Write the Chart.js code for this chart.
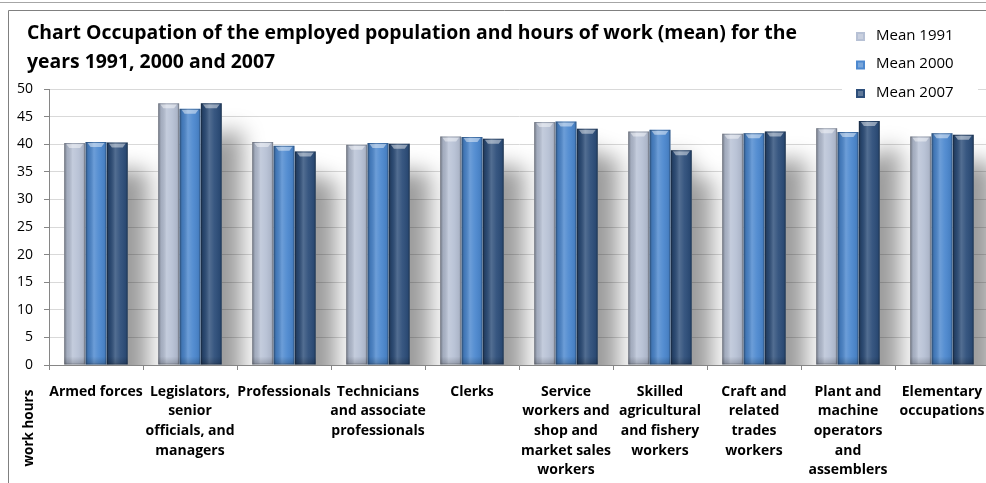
<!DOCTYPE html>
<html>
<head>
<meta charset="utf-8">
<script src="https://cdn.jsdelivr.net/npm/chart.js@4"></script>
<style>
  html, body { margin: 0; padding: 0; background: #fff; overflow: hidden; }
  canvas { display: block; }
</style>
</head>
<body>
<canvas id="chart" width="1000" height="483"></canvas>
<script>
// occupation groups, one array of lines per label
const categories = [
    ['Armed forces'],
    ['Legislators,', 'senior', 'officials, and', 'managers'],
    ['Professionals'],
    ['Technicians', 'and associate', 'professionals'],
    ['Clerks'],
    ['Service', 'workers and', 'shop and', 'market sales', 'workers'],
    ['Skilled', 'agricultural', 'and fishery', 'workers'],
    ['Craft and', 'related', 'trades', 'workers'],
    ['Plant and', 'machine', 'operators', 'and', 'assemblers'],
    ['Elementary', 'occupations']
];

// mean weekly work hours
const mean1991 = [40.2, 47.4, 40.4, 39.9, 41.4, 44.0, 42.3, 41.9, 42.9, 41.4];
const mean2000 = [40.4, 46.4, 39.7, 40.2, 41.3, 44.1, 42.6, 42.0, 42.2, 42.0];
const mean2007 = [40.3, 47.4, 38.7, 40.1, 41.0, 42.8, 38.9, 42.3, 44.2, 41.7];

const seriesLabels = ['Mean 1991', 'Mean 2000', 'Mean 2007'];
const seriesColors = ['#b7c1d5', '#4c88cf', '#2d4e7a'];
const yTicks = { min: 0, max: 50, step: 5 };

const titleLines = [
    'Chart Occupation of the employed population and hours of work (mean) for the',
    'years 1991, 2000 and 2007'
];
const axisTitle = 'work hours';

const FONT = "'Open Sans', Lato, 'DejaVu Sans', sans-serif";

// soft shadow cast by each group of bars
const barShadow = {
    id: 'barShadow',
    beforeDatasetsDraw(chart) {
        const { ctx, chartArea } = chart;
        ctx.save();
        ctx.beginPath();
        ctx.rect(chartArea.left, chartArea.top, chartArea.right - chartArea.left, chartArea.bottom - chartArea.top);
        ctx.clip();
        ctx.beginPath();
        chart.data.datasets.forEach((ds, i) => {
            chart.getDatasetMeta(i).data.forEach(bar => {
                const { x, y, base, width } = bar.getProps(['x', 'y', 'base', 'width']);
                ctx.rect(x - width / 2, y, width, base - y);
            });
        });
        ctx.shadowColor = 'rgba(0, 0, 0, 0.4)';
        ctx.shadowBlur = 22;
        ctx.shadowOffsetX = 20;
        ctx.shadowOffsetY = 28;
        ctx.fillStyle = '#fff';
        ctx.fill();
        ctx.restore();
    }
};

// bevelled look on top of the flat bars
const barBevel = {
    id: 'barBevel',
    afterDatasetsDraw(chart) {
        const { ctx } = chart;
        ctx.save();
        chart.data.datasets.forEach((ds, i) => {
            chart.getDatasetMeta(i).data.forEach(bar => {
                const { x, y, base, width } = bar.getProps(['x', 'y', 'base', 'width']);
                const left = x - width / 2;
                const h = base - y;

                const g = ctx.createLinearGradient(left, 0, left + width, 0);
                g.addColorStop(0, 'rgba(0, 0, 0, 0.32)');
                g.addColorStop(0.15, 'rgba(0, 0, 0, 0.1)');
                g.addColorStop(0.4, 'rgba(255, 255, 255, 0.18)');
                g.addColorStop(0.65, 'rgba(255, 255, 255, 0.05)');
                g.addColorStop(0.9, 'rgba(0, 0, 0, 0.06)');
                g.addColorStop(1, 'rgba(0, 0, 0, 0.24)');
                ctx.fillStyle = g;
                ctx.fillRect(left, y, width, h);

                // rounded cap highlight
                ctx.fillStyle = 'rgba(255, 255, 255, 0.45)';
                ctx.beginPath();
                ctx.moveTo(left + 2, y + 1);
                ctx.lineTo(left + width - 2, y + 1);
                ctx.lineTo(left + width - 5, y + 5);
                ctx.lineTo(left + 5, y + 5);
                ctx.closePath();
                ctx.fill();

                // darker foot
                const f = ctx.createLinearGradient(0, base - 8, 0, base);
                f.addColorStop(0, 'rgba(0, 0, 0, 0)');
                f.addColorStop(1, 'rgba(0, 0, 0, 0.2)');
                ctx.fillStyle = f;
                ctx.fillRect(left, base - 8, width, 8);

                ctx.strokeStyle = 'rgba(0, 0, 0, 0.18)';
                ctx.lineWidth = 1;
                ctx.strokeRect(left + 0.5, y + 0.5, width - 1, h - 1);
            });
        });
        ctx.restore();
    }
};

// title, legend, axis title and outer frame
const decorations = {
    id: 'decorations',
    afterDraw(chart) {
        const { ctx, width } = chart;
        ctx.save();

        // frame
        ctx.strokeStyle = '#a6a6a6';
        ctx.lineWidth = 1;
        ctx.beginPath();
        ctx.moveTo(0, 2.5);
        ctx.lineTo(width, 2.5);
        ctx.stroke();
        ctx.strokeStyle = '#808080';
        ctx.beginPath();
        ctx.moveTo(8.5, chart.height);
        ctx.lineTo(8.5, 10.5);
        ctx.lineTo(width, 10.5);
        ctx.stroke();

        // title
        ctx.fillStyle = '#000';
        ctx.font = `bold 19.4px ${FONT}`;
        ctx.textAlign = 'left';
        ctx.textBaseline = 'alphabetic';
        ctx.fillText(titleLines[0], 27, 39);
        ctx.fillText(titleLines[1], 27, 68);

        // legend
        ctx.fillStyle = '#fff';
        ctx.fillRect(842, 18, 136, 84);
        ctx.font = `15px ${FONT}`;
        chart.data.datasets.forEach((ds, i) => {
            const top = 32 + i * 28.5;
            const bx = 856;
            ctx.fillStyle = ds.backgroundColor;
            ctx.fillRect(bx, top, 9, 9);
            ctx.fillStyle = 'rgba(255,255,255,0.25)';
            ctx.fillRect(bx + 2, top + 2, 5, 5);
            ctx.fillStyle = '#000';
            ctx.fillText(ds.label, 876, top + 7.5);
        });

        // vertical axis title sits beside the category labels
        ctx.translate(29, 428);
        ctx.rotate(-Math.PI / 2);
        ctx.textAlign = 'center';
        ctx.textBaseline = 'middle';
        ctx.font = `bold 13.5px ${FONT}`;
        ctx.fillText(axisTitle, 0, 0);
        ctx.restore();
    }
};

const datasets = [mean1991, mean2000, mean2007].map((values, i) => ({
    label: seriesLabels[i],
    data: values,
    backgroundColor: seriesColors[i],
    borderWidth: 0,
    categoryPercentage: 0.68,
    barPercentage: 0.98
}));

new Chart(document.getElementById('chart'), {
    type: 'bar',
    data: { labels: categories, datasets },
    options: {
        responsive: false,
        animation: false,
        layout: { padding: { top: 89, right: 11, bottom: 0, left: 0 } },
        plugins: {
            legend: { display: false },
            title: { display: false },
            tooltip: { enabled: false }
        },
        scales: {
            x: {
                grid: {
                    offset: true,
                    drawOnChartArea: false,
                    drawTicks: true,
                    tickLength: 5,
                    color: '#868686'
                },
                border: { color: '#868686' },
                ticks: {
                    autoSkip: false,
                    maxRotation: 0,
                    padding: 12,
                    color: '#000',
                    font: { family: FONT, size: 14, weight: 'bold', lineHeight: 1.4 }
                },
                afterFit: scale => { scale.height = 118; }
            },
            y: {
                min: yTicks.min,
                max: yTicks.max,
                grid: {
                    color: '#d9d9d9',
                    tickColor: '#868686',
                    tickLength: 5
                },
                border: { color: '#868686' },
                ticks: {
                    stepSize: yTicks.step,
                    padding: 11,
                    color: '#000',
                    font: { family: FONT, size: 14 }
                },
                afterFit: scale => { scale.width = 49; }
            }
        }
    },
    plugins: [barShadow, barBevel, decorations]
});
</script>
</body>
</html>
